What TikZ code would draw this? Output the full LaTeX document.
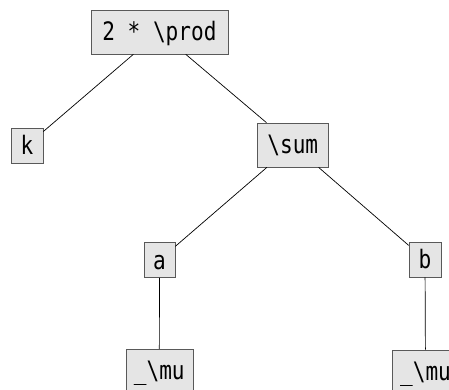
\documentclass[tikz,border=0pt]{standalone}
\usepackage{fontspec}
\newfontfamily\tokfont[FakeStretch=0.83]{DejaVu Sans Mono}
\usetikzlibrary{calc}
\tikzset{
	tok/.style={draw=black!65, fill=black!10, line width=0.6pt, inner sep=0pt,
		font=\fontsize{25.4}{30}\selectfont\tokfont,
		text height=27pt, text depth=8pt, minimum width=#1},
	tok/.default=32pt,
	tokdeep/.style={tok=#1, text height=30.5pt, text depth=13.5pt},
	tokdeep/.default=71pt,
	link/.style={line width=0.7pt}
}

\begin{document}
\begin{tikzpicture}[x=1pt, y=1pt]
				\useasboundingbox (0,0) rectangle (449,390);
				
				\node[tokdeep=137pt] (prod) at (159.4, 358) {2 * \textbackslash prod};
				\node[tok] (k) at (27, 244.5) {k};
				\node[tokdeep] (sum) at (292.8, 245) {\textbackslash sum};
				
				\node[tok=31pt] (a) at (159.5, 130) {a};
				\node[tok] (b) at (425, 130.5) {b};
				
				\node[tokdeep=67pt] (mua) at (159.3, 18.7) {\_\textbackslash mu};
				\node[tokdeep=67pt] (mub) at (425.5, 18) {\_\textbackslash mu};
				
				\draw[link] (prod) -- (k);
				\draw[link] (prod) -- (sum);
				\draw[link] (sum) -- (a);
				\draw[link] (sum) -- (b);
				\draw[link] (a) -- (mua);
				\draw[link] (b) -- (mub);
\end{tikzpicture}
\end{document}
